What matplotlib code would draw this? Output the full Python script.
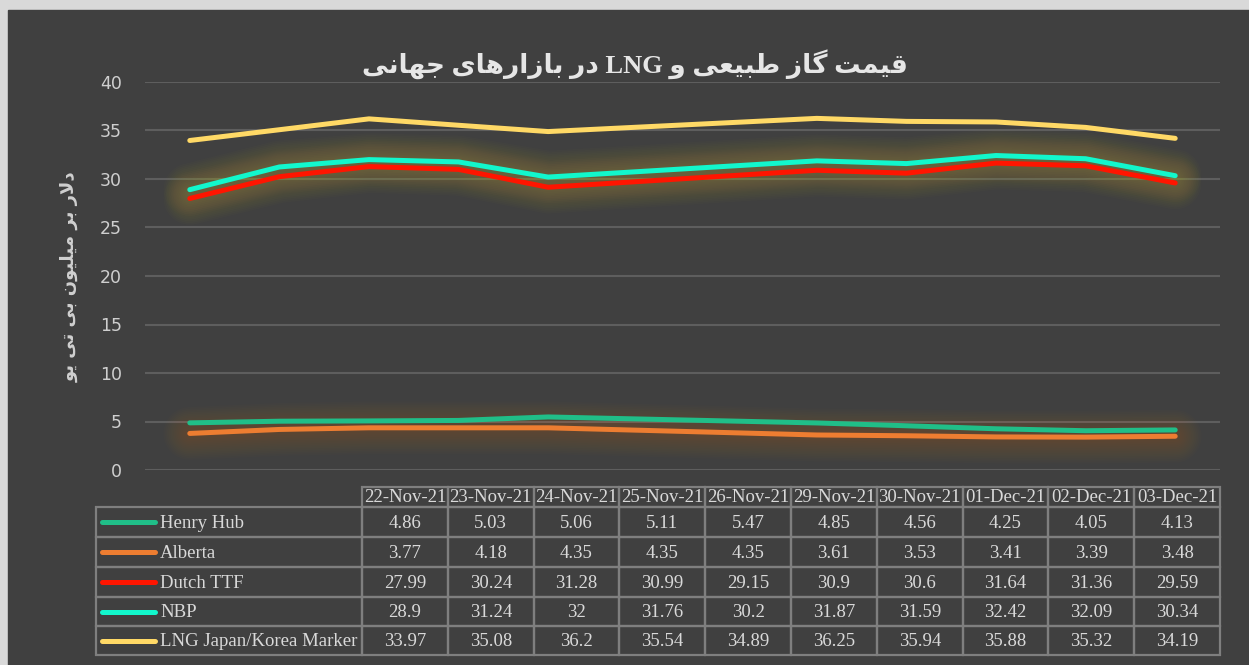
import numpy as np
import matplotlib
matplotlib.use('Agg')
import matplotlib.pyplot as plt
from matplotlib.patches import Rectangle

# ---- data ----
dates = ['2021-11-22', '2021-11-23', '2021-11-24', '2021-11-25', '2021-11-26',
         '2021-11-29', '2021-11-30', '2021-12-01', '2021-12-02', '2021-12-03']
date_labels = ['22-Nov-21', '23-Nov-21', '24-Nov-21', '25-Nov-21', '26-Nov-21',
               '29-Nov-21', '30-Nov-21', '01-Dec-21', '02-Dec-21', '03-Dec-21']
series_names = ['Henry Hub', 'Alberta', 'Dutch TTF', 'NBP', 'LNG Japan/Korea Marker']
henry_hub = [4.86, 5.03, 5.06, 5.11, 5.47, 4.85, 4.56, 4.25, 4.05, 4.13]
alberta = [3.77, 4.18, 4.35, 4.35, 4.35, 3.61, 3.53, 3.41, 3.39, 3.48]
dutch_ttf = [27.99, 30.24, 31.28, 30.99, 29.15, 30.9, 30.6, 31.64, 31.36, 29.59]
nbp = [28.9, 31.24, 32, 31.76, 30.2, 31.87, 31.59, 32.42, 32.09, 30.34]
lng_jk = [33.97, 35.08, 36.2, 35.54, 34.89, 36.25, 35.94, 35.88, 35.32, 34.19]
y_ticks = [0, 5, 10, 15, 20, 25, 30, 35, 40]

title_fa = 'قیمت گاز طبیعی و LNG در بازارهای جهانی'
ylabel_fa = 'دلار بر میلیون بی تی یو'

colors = ['#20BE88', '#ED7D31', '#FF1500', '#12F7CC', '#FFD966']
glows = [None, '#D9782F', '#BFAE3A', '#BFAE3A', None]

# ---- minimal persian shaping (matplotlib has no bidi / joining) ----
FORMS = {
    'ا': '\uFE8D\uFE8E', 'د': '\uFEA9\uFEAA', 'ر': '\uFEAD\uFEAE',
    'ز': '\uFEAF\uFEB0', 'و': '\uFEED\uFEEE',
    'ب': '\uFE8F\uFE90\uFE91\uFE92', 'ت': '\uFE95\uFE96\uFE97\uFE98',
    'ج': '\uFE9D\uFE9E\uFE9F\uFEA0', 'ط': '\uFEC1\uFEC2\uFEC3\uFEC4',
    'ع': '\uFEC9\uFECA\uFECB\uFECC', 'ق': '\uFED5\uFED6\uFED7\uFED8',
    'ل': '\uFEDD\uFEDE\uFEDF\uFEE0', 'م': '\uFEE1\uFEE2\uFEE3\uFEE4',
    'ن': '\uFEE5\uFEE6\uFEE7\uFEE8', 'ه': '\uFEE9\uFEEA\uFEEB\uFEEC',
    'ی': '\uFBFC\uFBFD\uFBFE\uFBFF', 'گ': '\uFB92\uFB93\uFB94\uFB95',
}
DUAL = {c for c, f in FORMS.items() if len(f) == 4}


def shape_word(w):
    out = []
    i = 0
    while i < len(w):
        c = w[i]
        joins_prev = i > 0 and w[i - 1] in DUAL
        if c == 'ل' and i + 1 < len(w) and w[i + 1] == 'ا':
            out.append('\uFEFC' if joins_prev else '\uFEFB')
            i += 2
            continue
        f = FORMS.get(c)
        if f is None:
            out.append(c)
            i += 1
            continue
        joins_next = c in DUAL and i + 1 < len(w) and w[i + 1] in FORMS
        if joins_prev and joins_next:
            idx = 3
        elif joins_prev:
            idx = 1
        elif joins_next:
            idx = 2
        else:
            idx = 0
        out.append(f[idx])
        i += 1
    return ''.join(out)


def fa(text):
    vis = []
    for w in reversed(text.split(' ')):
        if any(ch in FORMS for ch in w):
            vis.append(shape_word(w)[::-1])
        else:
            vis.append(w)
    return ' '.join(vis)


# ---- figure ----
W, H = 1249, 665
fig = plt.figure(figsize=(W / 100, H / 100), dpi=100)
fig.patch.set_facecolor('#d9d9d9')

bg = fig.add_axes([0, 0, 1, 1])
bg.set_xlim(0, W)
bg.set_ylim(H, 0)
bg.axis('off')
bg.add_patch(Rectangle((8, 10), W - 8, H - 10, color='#404040', zorder=0))

bg.text(635, 64, fa(title_fa), ha='center', va='center', fontsize=19,
        fontweight='bold', color='#e6e6e6', family=['Liberation Serif', 'DejaVu Sans'])
bg.text(70, 277, fa(ylabel_fa), ha='center', va='center', rotation=90, fontsize=13,
        fontweight='bold', color='#d0d0d0', family='DejaVu Sans')

# ---- line chart ----
ax = fig.add_axes([145 / W, 1 - 470 / H, (1220 - 145) / W, (470 - 82) / H])
ax.set_facecolor('none')
d = np.array(dates, dtype='datetime64[D]')
x = (d - d[0]).astype(int)
all_series = [henry_hub, alberta, dutch_ttf, nbp, lng_jk]

# soft glow under some series
for vals, col, glow in zip(all_series, colors, glows):
    if glow:
        for lw in np.linspace(38, 6, 14):
            ax.plot(x, vals, color=glow, lw=lw, alpha=0.02,
                    solid_capstyle='round', solid_joinstyle='round', zorder=1)
for vals, col in zip(all_series, colors):
    ax.plot(x, vals, color=col, lw=3.6, solid_capstyle='round',
            solid_joinstyle='round', zorder=3)

ax.set_xlim(-0.5, 11.5)
ax.set_ylim(0, 40)
ax.set_yticks(y_ticks)
ax.set_xticks([])
ax.grid(axis='y', color='#5e5e5e', lw=1.5)
ax.set_axisbelow(True)
for s in ax.spines.values():
    s.set_visible(False)
ax.tick_params(axis='y', length=0, pad=16.5, labelsize=12.5, labelcolor='#cfcfcf')

# ---- data table ----
col_edges = np.linspace(362, 1220, len(date_labels) + 1)
row_edges = [487, 507, 537, 567, 597, 626, 655]
lab_left = 96
gcol = '#7f7f7f'
tfont = dict(family='Liberation Serif', fontsize=13.5, color='#d9d9d9')

# header cells
for j, lab in enumerate(date_labels):
    bg.add_patch(Rectangle((col_edges[j], row_edges[0]), col_edges[j + 1] - col_edges[j],
                           row_edges[1] - row_edges[0], fill=False, ec=gcol, lw=1.6))
    bg.text((col_edges[j] + col_edges[j + 1]) / 2, (row_edges[0] + row_edges[1]) / 2 + 1,
            lab, ha='center', va='center', **tfont)

for i, (name, vals, col) in enumerate(zip(series_names, all_series, colors)):
    top, bot = row_edges[i + 1], row_edges[i + 2]
    ym = (top + bot) / 2
    bg.add_patch(Rectangle((lab_left, top), col_edges[0] - lab_left, bot - top,
                           fill=False, ec=gcol, lw=1.6))
    bg.plot([102, 155], [ym, ym], color=col, lw=3.6, solid_capstyle='round')
    bg.text(160, ym + 1, name, ha='left', va='center', **tfont)
    for j, v in enumerate(vals):
        bg.add_patch(Rectangle((col_edges[j], top), col_edges[j + 1] - col_edges[j], bot - top,
                               fill=False, ec=gcol, lw=1.6))
        bg.text((col_edges[j] + col_edges[j + 1]) / 2, ym + 1, f'{v:g}',
                ha='center', va='center', **tfont)

fig.savefig('out.png', dpi=100, facecolor=fig.get_facecolor())
